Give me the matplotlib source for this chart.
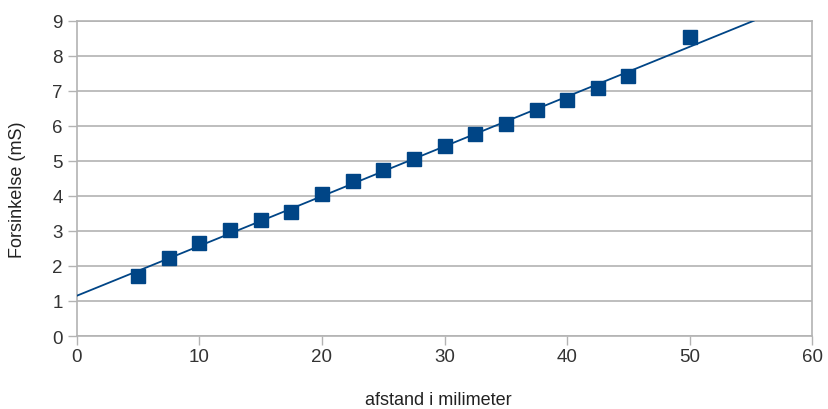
import numpy as np
import matplotlib
matplotlib.use("Agg")
import matplotlib.pyplot as plt

# afstand (mm) og forsinkelse (mS)
afstand = [5, 7.5, 10, 12.5, 15, 17.5, 20, 22.5, 25, 27.5, 30, 32.5,
           35, 37.5, 40, 42.5, 45, 50]
forsinkelse = [1.72, 2.22, 2.66, 3.02, 3.31, 3.55, 4.04, 4.43, 4.74, 5.06,
               5.42, 5.76, 6.05, 6.45, 6.74, 7.09, 7.41, 8.54]
x_ticks = [0, 10, 20, 30, 40, 50, 60]
y_ticks = [0, 1, 2, 3, 4, 5, 6, 7, 8, 9]


def main():
    plt.rcParams['font.family'] = ['Liberation Sans', 'DejaVu Sans']
    blue = '#004586'
    grey = '#b3b3b3'

    fig = plt.figure(figsize=(8.29, 4.10), dpi=100)
    ax = fig.add_axes([0.0925, 0.178, 0.8875, 0.769])

    # lineær tendenslinje
    slope, intercept = np.polyfit(afstand, forsinkelse, 1)
    x_end = (y_ticks[-1] - intercept) / slope
    xs = np.array([0, x_end])
    ax.plot(xs, intercept + slope * xs, color=blue, lw=1.3, zorder=3)

    ax.plot(afstand, forsinkelse, linestyle='none', marker='s',
            markersize=10.5, color=blue, zorder=4)

    ax.set_xlim(0, 60)
    ax.set_ylim(0, 9)
    ax.set_xticks(x_ticks)
    ax.set_yticks(y_ticks)
    ax.yaxis.grid(True, color=grey, lw=1.2)
    ax.set_axisbelow(True)
    for s in ax.spines.values():
        s.set_color(grey)
        s.set_linewidth(1.2)
    ax.tick_params(direction='out', length=6.5, width=1, color=grey,
                   labelsize=13.5, labelcolor='#333333')
    ax.tick_params(axis='x', pad=2)
    ax.tick_params(axis='y', pad=3.5)

    ax.set_xlabel("afstand i milimeter", fontsize=13, color='#222222')
    ax.set_ylabel("Forsinkelse (mS)", fontsize=13, color='#222222')
    ax.xaxis.set_label_coords(0.491, -0.174)
    ax.yaxis.set_label_coords(-0.069, 0.466)

    fig.savefig("out.png", dpi=100)


if __name__ == "__main__":
    main()
